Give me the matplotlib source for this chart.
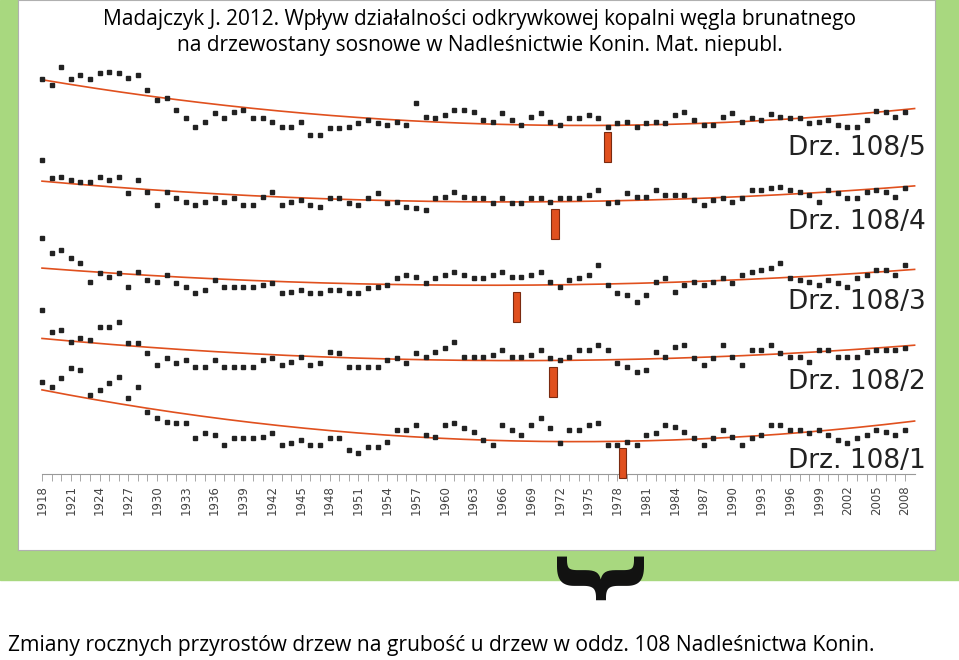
import matplotlib
matplotlib.use("Agg")
import matplotlib.pyplot as plt
import numpy as np

# tree-ring series, one value per year 1918-2008 (vertical position in the strip, larger = lower)
years = np.arange(1918, 2009)
s5 = [79, 85, 67, 79, 75, 79, 73, 72, 73, 78, 75, 90, 100, 98, 110, 118, 127, 122, 113, 118, 112, 110, 118, 118, 122, 127, 127, 122, 135, 135, 128,
      128, 127, 123, 120, 123, 125, 122, 125, 103, 117, 118, 115, 110, 110, 112, 120, 122, 113, 120, 125, 117, 113, 122, 125, 118, 118, 115, 118, 127, 123, 122, 127,
      123, 122, 123, 115, 112, 120, 125, 125, 117, 113, 122, 118, 120, 114, 117, 118, 118, 123, 122, 120, 125, 127, 127, 120, 111, 112, 117, 112]
s4 = [160, 178, 177, 180, 182, 182, 177, 180, 177, 193, 180, 192, 205, 192, 198, 202, 205, 202, 198, 202, 198, 205, 205, 197, 192, 205, 202, 200, 205, 207, 198,
      198, 203, 205, 198, 193, 203, 202, 207, 208, 210, 198, 197, 192, 197, 198, 198, 203, 198, 203, 203, 198, 198, 202, 198, 198, 198, 195, 190, 203, 202, 193, 197,
      197, 190, 195, 195, 195, 200, 205, 200, 198, 202, 198, 190, 190, 188, 187, 190, 192, 195, 202, 190, 193, 198, 198, 192, 190, 192, 197, 188]
s3 = [238, 253, 250, 258, 263, 282, 273, 277, 273, 287, 272, 280, 282, 275, 283, 287, 293, 290, 280, 287, 287, 287, 287, 285, 283, 293, 292, 290, 293, 293, 290,
      290, 293, 293, 288, 287, 285, 278, 275, 277, 283, 278, 275, 272, 275, 278, 278, 275, 272, 277, 277, 275, 272, 282, 287, 280, 278, 275, 265, 285, 293, 295, 302,
      295, 282, 278, 292, 285, 282, 285, 282, 278, 283, 275, 272, 270, 268, 263, 278, 280, 282, 285, 280, 283, 287, 278, 275, 270, 270, 275, 265]
s2 = [310, 332, 330, 342, 338, 340, 327, 327, 322, 343, 343, 353, 365, 358, 363, 360, 367, 367, 360, 367, 367, 367, 367, 360, 358, 365, 362, 357, 365, 363, 352,
      353, 367, 367, 367, 367, 360, 358, 363, 353, 357, 352, 348, 342, 357, 357, 357, 355, 350, 357, 357, 355, 350, 358, 360, 357, 350, 350, 345, 350, 363, 367, 372,
      370, 352, 357, 347, 345, 358, 365, 358, 345, 357, 365, 350, 350, 345, 353, 357, 357, 362, 350, 350, 357, 357, 357, 352, 350, 350, 350, 348]
s1 = [382, 387, 378, 368, 370, 395, 390, 383, 377, 398, 387, 412, 418, 422, 423, 423, 438, 433, 435, 445, 438, 438, 438, 437, 433, 445, 443, 440, 445, 445, 438,
      438, 450, 453, 447, 447, 442, 430, 430, 425, 435, 437, 425, 423, 428, 432, 440, 445, 425, 430, 435, 425, 418, 428, 443, 430, 430, 425, 423, 445, 445, 442, 445,
      435, 433, 425, 427, 432, 438, 445, 438, 430, 437, 445, 438, 435, 425, 425, 430, 430, 433, 430, 435, 440, 443, 438, 435, 430, 432, 435, 430]
series = [s5, s4, s3, s2, s1]
names = ["Drz. 108/5", "Drz. 108/4", "Drz. 108/3", "Drz. 108/2", "Drz. 108/1"]
name_y = [148, 222, 302, 382, 461]
mine_years = [1977, 1971.5, 1967.5, 1971.3, 1978.5]   # red markers
label_years = np.arange(1918, 2009, 3)

green = "#a8d87f"
red = "#e0501e"

fig = plt.figure(figsize=(9.59, 6.6), dpi=100)
fig.patch.set_facecolor("white")
fig.add_artist(plt.Rectangle((0, 80 / 660), 1, 580 / 660, transform=fig.transFigure, color=green, zorder=0))

ax = fig.add_axes([18 / 959, 110 / 660, 917 / 959, 550 / 660])
ax.set_facecolor("white")
for sp in ax.spines.values():
    sp.set_color("#b0b0b0")
ax.set_xlim(1918 - 24 / 9.59, 2008 + 30 / 9.59)
ax.set_ylim(550, 0)
ax.set_xticks([])
ax.set_yticks([])

for vals, nm, ny, my in zip(series, names, name_y, mine_years):
    vals = np.array(vals)
    coef = np.polyfit(years, vals, 2)
    xs = np.linspace(1918, 2009, 200)
    ax.plot(xs, np.polyval(coef, xs), color=red, lw=1.2, zorder=2)
    ax.plot(years, vals, "s", color="#222222", ms=2.3, zorder=3)
    top = np.polyval(coef, my) + 7
    ax.bar(my, 30, bottom=top, width=0.75, color=red, edgecolor="#7a2a10", lw=0.8, zorder=4)
    ax.text(2010.2, ny, nm, fontsize=19, ha="right", va="center", color="#222222")

# year axis
ax.plot([1918, 2009], [474, 474], color="#999999", lw=0.8)
ax.vlines(years, 474, 481, color="#999999", lw=0.6)
for yr in label_years:
    ax.text(yr, 485, str(yr), rotation=90, ha="center", va="top", fontsize=8.5, color="#444444")

fig.text(0.5, 1 - 20 / 660, "Madajczyk J. 2012. Wpływ działalności odkrywkowej kopalni węgla brunatnego",
         ha="center", va="center", fontsize=15, family="Open Sans")
fig.text(0.5, 1 - 46 / 660, "na drzewostany sosnowe w Nadleśnictwie Konin. Mat. niepubl.",
         ha="center", va="center", fontsize=15, family="Open Sans")
fig.text(592 / 959, 1 - 566 / 660, "{", rotation=90, ha="center", va="center", fontsize=68,
         fontweight="bold", color="#111111")
fig.text(8 / 959, 1 - 646 / 660, "Zmiany rocznych przyrostów drzew na grubość u drzew w oddz. 108 Nadleśnictwa Konin.",
         ha="left", va="center", fontsize=15.1, family="Open Sans")

fig.savefig("out.png", dpi=100)
